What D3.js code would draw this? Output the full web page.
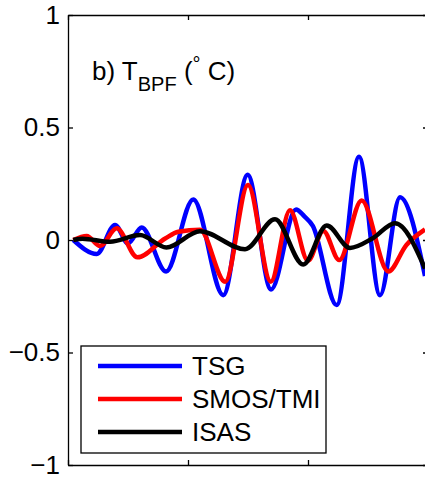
<!DOCTYPE html>
<html>
<head>
<meta charset="utf-8">
<script src="https://cdn.jsdelivr.net/npm/d3@7"></script>
<style>
  body { margin: 0; background: #fff; }
  text { font-family: "Liberation Sans", Arial, sans-serif; }
</style>
</head>
<body>
<script>
var w = 425;
var h = 477;

// series values: [time, value]
var tsg = [[0.044, 0], [0.24, -0.062], [0.392, 0.067], [0.5, -0.015], [0.614, 0.056],
    [0.817, -0.14], [1.044, 0.18], [1.294, -0.245], [1.497, 0.29], [1.692, -0.22],
    [1.9, 0.136], [1.97, 0.105], [2.04, 0.063], [2.239, -0.289], [2.425, 0.37],
    [2.6, -0.245], [2.767, 0.19], [2.975, -0.16]];
var smos = [[0.044, 0], [0.156, 0.018], [0.267, -0.027], [0.406, 0.052], [0.578, -0.077],
    [0.81, 0.007], [0.92, 0.037], [1.1, 0.046], [1.31, -0.185], [1.5, 0.244],
    [1.69, -0.185], [1.85, 0.132], [2.0, -0.092], [2.128, 0.04], [2.26, -0.089],
    [2.447, 0.176], [2.669, -0.14], [2.82, -0.022], [2.975, 0.047]];
var isas = [[0.044, 0], [0.12, 0.006], [0.35, -0.008], [0.6, 0.022], [0.82, -0.033],
    [1.1, 0.039], [1.475, -0.041], [1.725, 0.092], [1.96, -0.109], [2.156, 0.064],
    [2.35, -0.035], [2.54, 0.008], [2.725, 0.075], [2.975, -0.127]];

var seriesNames = ["TSG", "SMOS/TMI", "ISAS"];
var seriesColors = ["#0000ff", "#ff0000", "#000000"];
var yTicks = [-1, -0.5, 0, 0.5, 1];
var xTicks = [0, 1, 2, 3];

var x = d3.scaleLinear().domain([0, 3]).range([68, 428]);
var y = d3.scaleLinear().domain([-1, 1]).range([465, 15]);

var svg = d3.select("body")
    .append("svg")
    .attr("width", w)
    .attr("height", h);

// axes (ticks pointing inward, like matlab)
svg.append("g")
    .attr("transform", "translate(" + x(0) + ",0)")
    .call(d3.axisLeft(y).tickValues(yTicks).tickFormat(d3.format("~g"))
        .tickSizeInner(-5).tickSizeOuter(0).tickPadding(8));
svg.append("g")
    .attr("transform", "translate(" + x(3) + ",0)")
    .call(d3.axisRight(y).tickValues(yTicks).tickFormat("")
        .tickSizeInner(-5).tickSizeOuter(0));
svg.append("g")
    .attr("transform", "translate(0," + y(-1) + ")")
    .call(d3.axisBottom(x).tickValues(xTicks).tickFormat("")
        .tickSizeInner(-5).tickSizeOuter(0));
svg.append("g")
    .attr("transform", "translate(0," + y(1) + ")")
    .call(d3.axisTop(x).tickValues(xTicks).tickFormat("")
        .tickSizeInner(-5).tickSizeOuter(0));

svg.selectAll(".domain, .tick line")
    .attr("stroke", "#000")
    .attr("stroke-width", 1.3);
svg.selectAll(".tick text")
    .attr("font-size", 26)
    .attr("fill", "#000")
    .attr("font-family", "Liberation Sans, Arial, sans-serif");

// curves
var line = d3.line()
    .x(function(d) { return x(d[0]); })
    .y(function(d) { return y(d[1]); })
    .curve(d3.curveMonotoneX);

var allSeries = [tsg, smos, isas];
svg.selectAll("path.series")
    .data(allSeries)
    .enter()
    .append("path")
    .attr("class", "series")
    .attr("fill", "none")
    .attr("stroke", function(d, i) { return seriesColors[i]; })
    .attr("stroke-width", 4.5)
    .attr("stroke-linejoin", "round")
    .attr("d", line);

// panel label
var lab = svg.append("text")
    .attr("x", 92)
    .attr("y", 80)
    .attr("font-size", 26)
    .attr("fill", "#000");
lab.append("tspan").text("b) T");
lab.append("tspan").attr("font-size", 20).attr("dy", 11).text("BPF");
lab.append("tspan").attr("dy", -11).text(" (");
lab.append("tspan").attr("font-size", 20).attr("dy", -9).text("°");
lab.append("tspan").attr("dy", 9).text(" C)");

// legend
var legend = svg.append("g");
legend.append("rect")
    .attr("x", 81)
    .attr("y", 346)
    .attr("width", 245)
    .attr("height", 107)
    .attr("fill", "#fff")
    .attr("stroke", "#000")
    .attr("stroke-width", 1.3);

var items = legend.selectAll("g.item")
    .data(seriesNames)
    .enter()
    .append("g")
    .attr("class", "item")
    .attr("transform", function(d, i) { return "translate(0," + (366 + i * 33) + ")"; });
items.append("line")
    .attr("x1", 98)
    .attr("x2", 182)
    .attr("stroke", function(d, i) { return seriesColors[i]; })
    .attr("stroke-width", 4.5);
items.append("text")
    .attr("x", 192)
    .attr("dy", "0.35em")
    .attr("font-size", 26)
    .text(function(d) { return d; });
</script>
</body>
</html>
